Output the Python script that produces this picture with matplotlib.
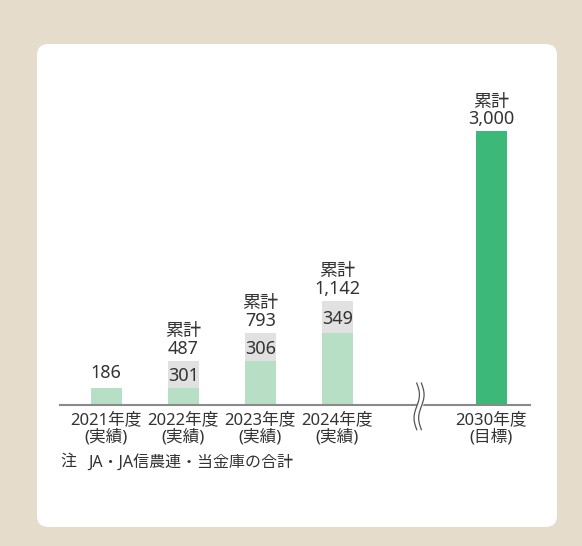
import numpy as np
import matplotlib
matplotlib.use('Agg')
from matplotlib import pyplot as plt
from matplotlib.patches import FancyBboxPatch

plt.rcParams['font.family'] = ['Noto Sans', 'Noto Sans CJK JP', 'DejaVu Sans']

# data
years = ['2021年度', '2022年度', '2023年度', '2024年度', '2030年度']
kinds = ['(実績)', '(実績)', '(実績)', '(実績)', '(目標)']
prev_total = [0, 186, 487, 793]
added = [186, 301, 306, 349]
totals = [186, 487, 793, 1142]
target = 3000
note_head = '注'
note_body = 'JA・JA信農連・当金庫の合計'

xpos = [0, 1, 2, 3]
xtarget = 5
xbreak = 4.06

light_green = '#b7dfc5'
gray = '#e1e1e1'
dark_green = '#3cb878'
txt = '#333333'

fig = plt.figure(figsize=(5.82, 5.46), dpi=100)
fig.patch.set_facecolor('#e6dccb')
panel = FancyBboxPatch((37/582, (546-527)/546), (557-37)/582, (527-44)/546,
                       boxstyle='round,pad=0,rounding_size=0.02',
                       transform=fig.transFigure, facecolor='white',
                       edgecolor='none', zorder=-5)
fig.patches.append(panel)

ax = fig.add_axes([60/582, (546-405)/546, 470/582, 274/546])
ax.set_zorder(5)
ax.set_facecolor('none')
ax.set_xlim(-0.6, 5.5)
ax.set_ylim(0, 3000)
for s in ['top', 'right', 'left']:
    ax.spines[s].set_visible(False)
ax.spines['bottom'].set_color('#8a8a8a')
ax.spines['bottom'].set_linewidth(1.5)
ax.set_yticks([])
ax.set_xticks([])

w = 0.4
ax.bar(xpos, prev_total, width=w, color=light_green, zorder=2)
ax.bar(xpos[1:], added[1:], bottom=prev_total[1:], width=w, color=gray, zorder=2)
ax.bar(xpos[0], added[0], width=w, color=light_green, zorder=2)
ax.bar(xtarget, target, width=w, color=dark_green, zorder=2)

fs = 13


def label(x, y, s, off, size=fs):
    ax.annotate(s, (x, y), xytext=(0, off), textcoords='offset points',
                ha='center', va='baseline', fontsize=size, color=txt,
                annotation_clip=False)


# labels
label(xpos[0], totals[0], f'{totals[0]:,}', 7)
for x, p, a, t in zip(xpos[1:], prev_total[1:], added[1:], totals[1:]):
    ax.text(x, p + a / 2, f'{a}', ha='center', va='center_baseline',
            fontsize=fs, color=txt)
    label(x, t, f'{t:,}', 5)
    label(x, t, '累計', 17.5)
label(xtarget, target, f'{target:,}', 5)
label(xtarget, target, '累計', 17.5)

# category labels
for x, yl, k in zip(xpos + [xtarget], years, kinds):
    label(x, 0, yl, -14, 12)
    label(x, 0, k, -26, 12)

# axis break mark
tr = ax.get_xaxis_transform()
t = np.linspace(0, 1, 60)
yy = 0.08 - t * 0.17
dx = 0.035 * np.sin(t * 2 * np.pi)
ax.fill_betweenx(yy, xbreak - 0.03 + dx, xbreak + 0.03 + dx, color='white',
                 transform=tr, zorder=3, clip_on=False)
for off in (-0.03, 0.03):
    ax.plot(xbreak + off + dx, yy, color='#555555', lw=0.9, transform=tr,
            zorder=4, clip_on=False)

fig.text(60/582, 1 - 462/546, note_head, fontsize=11.5, color=txt, va='center')
fig.text(88/582, 1 - 462/546, note_body, fontsize=11.5, color=txt, va='center')

fig.savefig('out.png', dpi=100, facecolor=fig.get_facecolor())
